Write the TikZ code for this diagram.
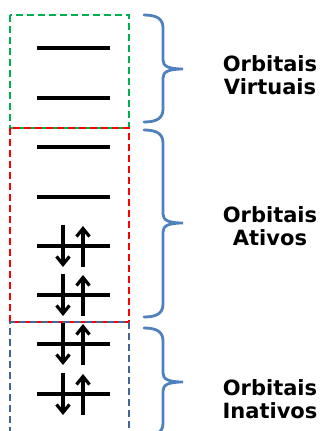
\documentclass[tikz,border=0pt]{standalone}
\usepackage{fontspec}
\setmainfont{DejaVu Sans}
\usetikzlibrary{arrows.meta}
\definecolor{boxgreen}{RGB}{0,176,80}
\definecolor{boxred}{RGB}{255,0,0}
\definecolor{boxblue}{RGB}{68,100,150}
\definecolor{bracecol}{RGB}{79,129,189}
\tikzset{
  dashbox/.style={line width=2.6pt, dash pattern=on 7pt off 4pt},
  level/.style={line width=3.4pt, black},
  spin/.style={line width=3.4pt, black, -{Straight Barb[length=8pt,width=13pt,line width=3.2pt]}},
  bracepath/.style={line width=2.8pt, bracecol, line cap=round},
  lbl/.style={font=\bfseries\fontsize{21}{22.5}\selectfont, align=center, text=black}
}
\newcommand\orblevel[2]{%
  \coordinate (#1L) at (37,#2);
  \coordinate (#1R) at (110,#2);
  \draw[level] (#1L) -- (#1R);}
\newcommand\orbpair[2]{%
  \coordinate (#1dt) at (63,#2-21);
  \coordinate (#1db) at (63,#2+21);
  \coordinate (#1ub) at (83,#2+21);
  \coordinate (#1ut) at (83,#2-20);
  \draw[spin] (#1dt) -- (#1db);
  \draw[spin] (#1ub) -- (#1ut);}
\newcommand\orbbrace[3]{% top, tip, bottom
  \draw[bracepath] (144,#1) .. controls (157,#1) and (163,#1+4) .. (163,#1+13)
    -- (163,#2-9) .. controls (163,#2-3) and (168,#2) .. (183,#2)
    .. controls (168,#2) and (163,#2+3) .. (163,#2+9)
    -- (163,#3-13) .. controls (163,#3-4) and (157,#3) .. (144,#3);}
\begin{document}
\begin{tikzpicture}[x=1pt,y=-1pt]
\clip (0,0) rectangle (320,431);
\fill[white] (0,0) rectangle (320,431);
% boxes
\draw[dashbox, boxgreen] (10,15) rectangle (129,128);
\draw[dashbox, boxred] (10,128) rectangle (129,322);
\draw[dashbox, boxblue, dash phase=5pt] (10,322) rectangle (129,445);
% levels
\orblevel{v1}{48}
\orblevel{v2}{98}
\orblevel{a1}{147}
\orblevel{a2}{197}
\orblevel{a3}{246}
\orblevel{a4}{295}
\orblevel{i1}{344}
\orblevel{i2}{394}
\orbpair{pa3}{246}
\orbpair{pa4}{295}
\orbpair{pi1}{344}
\orbpair{pi2}{394}
% braces
\orbbrace{15}{69}{122}
\orbbrace{130}{223}{317}
\orbbrace{328}{382}{436}
% labels
\node[lbl] (virt) at (270,75) {Orbitais\\Virtuais};
\node[lbl] (ativ) at (270,226) {Orbitais\\Ativos};
\node[lbl] (inat) at (270,399) {Orbitais\\Inativos};
\end{tikzpicture}
\end{document}
